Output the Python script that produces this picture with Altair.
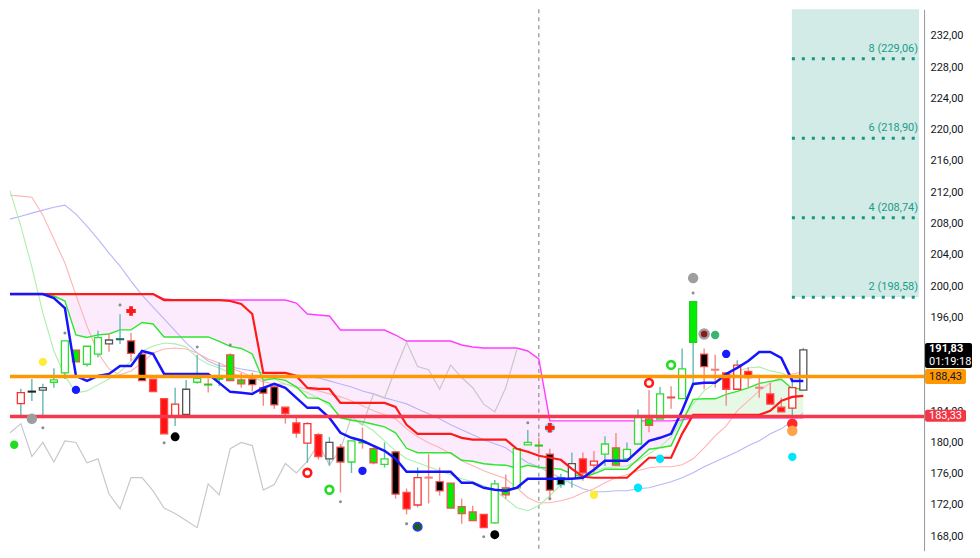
import altair as alt
import pandas as pd

W, H = 915, 542
XDOM = [-0.53, 81.5]
YDOM = [166.15, 235.4]

# ---------------- candles (index 0..71) ----------------
opens = [184.97, 186.55, 186.70, 187.70, 188.90, 191.80, 190.00, 191.30, 192.60, 193.25,
         193.00, 191.30, 188.10, 185.60, 183.40, 183.60, 187.70, 187.45, 188.50, 191.20,
         188.00, 188.10, 187.00, 187.10, 184.50, 182.50, 179.90, 181.00, 177.90, 179.40,
         177.50, 180.05, 179.20, 177.20, 178.80, 173.60, 172.00, 175.55, 175.00, 174.80,
         171.80, 171.10, 170.80, 169.70, 174.20, 174.20, 179.70, 179.65, 178.50, 175.50,
         175.40, 177.90, 177.10, 178.50, 179.30, 177.90, 179.80, 183.00, 183.00, 185.80,
         185.60, 198.00, 191.30, 189.35, 188.90, 186.80, 189.10, 187.05, 186.20, 184.50,
         184.40, 186.70]
highs = [186.85, 188.10, 187.50, 189.50, 193.00, 191.80, 192.30, 194.30, 194.00, 196.40,
         194.00, 191.80, 188.10, 185.60, 187.00, 188.00, 191.20, 188.20, 190.20, 191.40,
         188.90, 188.90, 188.00, 187.50, 184.50, 183.40, 182.60, 181.20, 180.70, 179.80,
         180.20, 181.90, 179.40, 180.00, 178.80, 174.10, 176.80, 178.50, 176.80, 174.80,
         172.80, 171.90, 170.80, 175.20, 175.90, 179.20, 181.60, 180.60, 179.20, 176.00,
         178.70, 178.70, 178.90, 180.80, 181.20, 180.00, 184.20, 186.70, 187.10, 187.20,
         192.00, 198.00, 192.00, 191.20, 188.90, 190.50, 189.60, 188.60, 187.60, 185.70,
         188.30, 192.10]
lows = [183.40, 185.30, 183.10, 187.00, 188.10, 190.30, 189.70, 190.90, 191.60, 192.60,
        190.40, 187.90, 186.50, 181.10, 182.10, 183.60, 187.50, 186.40, 187.20, 187.90,
        187.00, 186.50, 184.70, 184.30, 182.40, 180.60, 177.40, 177.80, 177.00, 173.60,
        176.10, 179.20, 177.20, 176.80, 172.80, 170.80, 171.70, 172.20, 173.20, 171.60,
        169.60, 170.00, 169.10, 169.60, 172.80, 174.20, 179.70, 178.50, 172.80, 174.20,
        174.20, 175.10, 176.10, 177.00, 177.00, 177.60, 179.80, 181.30, 183.00, 184.30,
        185.60, 187.60, 186.80, 187.00, 184.70, 186.80, 187.00, 185.70, 184.90, 183.90,
        183.20, 186.70]
closes = [186.37, 186.45, 187.00, 188.00, 193.00, 190.30, 192.30, 193.40, 193.10, 193.15,
          191.40, 187.90, 186.50, 181.10, 184.90, 186.80, 188.20, 187.35, 188.10, 187.90,
          187.50, 187.40, 186.30, 184.80, 183.70, 181.20, 182.40, 178.20, 180.00, 177.50,
          180.20, 179.95, 177.40, 177.90, 173.40, 171.50, 175.50, 175.45, 173.80, 171.60,
          170.90, 170.00, 169.10, 174.70, 173.30, 179.20, 180.00, 179.55, 173.90, 174.60,
          177.30, 176.10, 177.60, 179.80, 177.10, 179.10, 183.30, 182.20, 186.20, 185.70,
          189.40, 192.80, 189.70, 189.25, 186.80, 189.90, 188.30, 186.95, 184.90, 183.90,
          187.00, 191.83]
body_style = ["HR", "DK", "HK", "HG", "HG", "FG", "HG", "HG", "HK", "DT",
              "FK", "FK", "FR", "FR", "HR", "HK", "HG", "DG", "FGG", "FG",
              "FG", "FK", "FK", "FK", "FR", "FR", "HR", "FR", "HK", "FK",
              "HG", "DG", "FG", "HG", "FK", "FR", "HR", "DS", "FK", "FG",
              "FG", "FG", "FR", "HG", "FG", "HG", "HG", "DG", "FK", "FKT",
              "HK", "FR", "HR", "HG", "FG", "HG", "HG", "FG", "HG", "FG",
              "HG", "FGG", "FK", "DS", "FR", "HR", "FR", "DS", "FR", "FR",
              "HR", "HK"]
wick_style = ["T", "T", "T", "T", "T", "S", "T", "T", "S", "T",
              "S", "S", "S", "S", "T", "T", "T", "S", "T", "S",
              "S", "S", "S", "S", "S", "S", "T", "S", "T", "S",
              "T", "S", "S", "T", "S", "S", "T", "S", "S", "S",
              "S", "S", "S", "T", "S", "T", "T", "S", "S", "T",
              "T", "S", "S", "T", "S", "T", "T", "S", "T", "S",
              "T", "T", "S", "S", "S", "T", "S", "S", "S", "S",
              "T", "T"]

# ---------------- indicator lines (index -1..71) ----------------
tenkan = [198.98, 198.98, 198.98, 198.98, 198.47, 197.19, 188.51, 187.87, 188.51, 188.76,
          189.79, 189.79, 191.70, 191.32, 188.76, 188.76, 188.76, 188.76, 188.76, 187.62,
          186.47, 186.34, 186.21, 186.97, 187.48, 186.97, 185.70, 184.42, 184.42, 183.15,
          181.23, 180.59, 180.21, 179.57, 178.93, 177.91, 176.25, 176.25, 176.25, 176.25,
          176.25, 174.84, 174.84, 174.20, 173.95, 173.82, 174.20, 175.35, 175.35, 175.35,
          175.35, 175.35, 175.48, 176.50, 177.65, 177.65, 177.65, 178.93, 180.21, 180.59,
          181.10, 184.04, 187.48, 187.62, 187.62, 188.76, 189.53, 190.42, 191.57, 191.57,
          190.81, 187.87, 187.87]
kijun = ([198.98] * 14 + [198.21] * 6 + [198.09, 197.70, 196.43] + [188.89] * 3
         + [188.51, 186.97, 186.84, 186.84] + [185.06] * 5 + [184.55, 182.25]
         + [181.10] * 4 + [180.59] + [180.35] * 4
         + [179.19, 178.80, 178.29, 178.04, 177.78, 176.63, 175.61] + [175.48] * 4
         + [176.76] + [178.04] * 3 + [181.10] + [183.53] * 7
         + [184.04, 185.32, 185.83, 185.95])
span_a = [198.98, 198.98, 198.98, 198.98, 198.73, 198.09, 193.75, 193.43, 193.75, 193.87,
          194.39, 194.39, 195.34, 195.15, 193.49, 193.49, 193.49, 193.49, 193.49, 192.92,
          192.28, 192.02, 191.32, 187.93, 188.19, 187.93, 187.11, 185.70, 185.63, 185.00,
          183.15, 182.83, 182.64, 182.32, 182.00, 181.23, 179.25, 178.68, 178.68, 178.68,
          178.68, 177.72, 177.60, 177.28, 177.15, 177.09, 176.70, 177.08, 176.82, 176.70,
          176.57, 175.99, 175.55, 175.99, 176.57, 176.57, 176.57, 177.85, 179.13, 179.32,
          179.57, 182.57, 185.51, 185.58, 185.58, 186.15, 186.53, 186.98, 187.55, 187.81,
          188.07, 186.85, 186.91]
span_b = ([198.98] * 14 + [198.34] + [198.21] * 11 + [197.83, 196.43, 196.30, 196.17]
          + [194.38] * 5 + [193.74] + [192.97] * 5 + [192.46, 192.21] + [192.08] * 4
          + [191.70, 190.68] + [182.76] * 12 + [182.89] + [183.15] * 11)
light_green = [212.26, 207.67, 202.43, 196.55, 191.70, 188.51, 186.34, 186.59, 187.36, 188.12,
               189.02, 190.42, 191.70, 192.34, 192.72, 192.60, 192.21, 190.81, 190.04, 189.53,
               188.89, 188.51, 188.12, 188.12, 188.12, 187.48, 186.97, 186.34, 185.70, 184.67,
               183.40, 182.89, 182.38, 181.49, 180.21, 178.93, 177.91, 177.40, 176.89, 176.38,
               175.87, 175.35, 174.97, 174.46, 173.82, 172.80, 171.65, 171.27, 171.91, 173.18,
               174.59, 175.35, 175.99, 176.38, 176.76, 176.89, 177.02, 177.65, 178.55, 179.44,
               180.72, 183.02, 184.93, 186.59, 187.62, 188.38, 189.15, 189.53, 189.66, 189.15,
               188.89, 188.25, 188.12]
light_red = [211.62, 211.50, 211.37, 209.07, 206.01, 202.94, 198.85, 194.89, 191.45, 189.40,
             188.64, 189.15, 190.17, 191.45, 191.96, 192.08, 191.96, 191.45, 190.68, 190.17,
             189.53, 189.02, 188.38, 187.74, 187.48, 187.48, 187.10, 186.84, 186.59, 186.21,
             185.83, 185.32, 184.68, 184.04, 183.53, 183.02, 181.74, 180.72, 179.95, 179.31,
             178.55, 177.65, 177.01, 176.38, 175.87, 175.35, 174.20, 172.93, 172.29, 172.29,
             172.55, 172.93, 173.57, 174.08, 174.84, 175.48, 175.87, 176.38, 176.76, 176.89,
             176.89, 177.14, 177.91, 179.31, 180.85, 182.12, 184.04, 185.32, 186.59, 187.62,
             188.38, 188.76, 189.02]
light_blue = [208.56, 208.94, 209.33, 209.71, 210.09, 210.35, 209.20, 207.67, 206.01, 204.22,
              202.56, 200.64, 198.85, 197.32, 195.79, 194.26, 192.72, 191.45, 190.42, 189.79,
              189.66, 189.40, 189.15, 188.89, 188.76, 188.89, 188.64, 188.38, 188.25, 187.87,
              187.48, 187.10, 186.59, 186.21, 185.70, 185.32, 184.93, 184.29, 183.66, 183.02,
              182.25, 181.61, 180.97, 180.34, 179.82, 179.31, 178.29, 177.40, 176.89, 176.12,
              175.48, 174.71, 174.08, 173.69, 173.69, 173.82, 173.82, 174.08, 174.20, 174.59,
              174.97, 175.48, 176.12, 176.89, 177.53, 178.16, 178.80, 179.57, 180.21, 181.10,
              181.74, 182.76, 183.78]
# lagging line, index -1..45
lagging = [181.20, 182.40, 178.20, 180.00, 177.50, 180.20, 180.00, 177.40, 177.90, 173.40,
           171.50, 175.50, 175.50, 173.80, 171.60, 170.90, 170.00, 169.10, 174.70, 173.30,
           179.20, 180.00, 179.60, 173.90, 174.60, 177.30, 176.10, 177.60, 179.80, 177.10,
           179.10, 183.30, 182.20, 186.20, 185.70, 189.40, 192.80, 189.70, 189.30, 186.80,
           189.90, 188.30, 187.00, 184.90, 183.90, 187.00, 191.83]

# ---------------- markers ----------------
mk_c = [-0.6, 1, 2, 2, 4, 5, 9, 10, 13, 14, 16, 19, 26, 28, 29, 31, 35, 36, 42, 43,
        46, 48, 48, 48, 52, 56, 57, 58, 59, 61, 61, 62, 63, 64, 70, 70, 70]
mk_p = [179.70, 183.02, 181.87, 190.30, 194.00, 186.72, 197.58, 196.81, 179.95, 180.72,
        192.21, 192.47, 176.12, 173.95, 172.42, 176.37, 169.61, 169.22, 167.95, 168.20,
        182.51, 181.87, 181.87, 172.80, 173.31, 174.20, 187.61, 177.91, 189.91, 201.02,
        199.11, 193.87, 193.74, 191.32, 182.38, 181.49, 178.16]
mk_kind = ["green", "gray", "tiny", "yellow", "tiny", "blue", "tiny", "cross", "tiny", "black",
           "tiny", "tiny", "redring", "greenring", "tiny", "blue", "tiny", "dkgreen", "tiny", "black",
           "tiny", "cyanbg", "cross", "tiny", "yellow", "cyan", "redring", "cyan", "greenring", "gray",
           "tiny", "dkred", "seagreen", "blue", "red", "orange", "cyan"]

# ---------------- levels / labels ----------------
fib_levels = [198.58, 208.74, 218.90, 229.06]
fib_labels = ["2 (198,58)", "4 (208,74)", "6 (218,90)", "8 (229,06)"]
box_start = 69.96
h_orange = 188.43
h_red = 183.33
session_c = 47.0
axis_ticks = [168, 172, 176, 180, 184, 196, 200, 204, 208, 212, 216, 220, 224, 228, 232]
tag_top = [192.72, 189.40, 184.17]
tag_bot = [189.53, 187.48, 182.63]
tag_right = [48, 42, 42]
tag_fill = ["#000000", "#ff9800", "#f23645"]
tag_bold_text = ["191,83"]
tag_bold_p = [191.92]
tag_text = ["01:19:18", "188,43", "183,33"]
tag_text_p = [190.30, 188.43, 183.40]
tag_text_color = ["#ffffff", "#131722", "#ffffff"]

# ---------------- styling ----------------
BODY = {
    "HG": ("#ffffff", "#2ee02e"), "FG": ("#00ee00", "#f05050"), "FGG": ("#00ee00", "#22cc22"),
    "FR": ("#ff1414", "#ff4a4a"), "HR": ("#ffffff", "#ff3030"), "FK": ("#000000", "#f05050"),
    "FKT": ("#000000", "#26a69a"), "HK": ("#ffffff", "#555555"), "DK": ("#222222", "#222222"),
    "DT": ("#1e6f66", "#1e6f66"), "DG": ("#22cc22", "#22cc22"), "DS": ("#f08080", "#f08080"),
}
WICK = {"T": "#62b9b1", "S": "#f28b82"}
MK = {
    "tiny": ("#8c8c8c", "#8c8c8c", 0, 9, "circle"),
    "gray": ("#9e9e9e", "#9e9e9e", 0, 110, "circle"),
    "yellow": ("#ffeb3b", "#ffeb3b", 0, 70, "circle"),
    "blue": ("#1a1aff", "#1a1aff", 0, 70, "circle"),
    "black": ("#000000", "#000000", 0, 80, "circle"),
    "cross": ("#ff1a1a", "#ff1a1a", 0, 90, "cross"),
    "cyanbg": ("#7fdce8", "#7fdce8", 0, 100, "circle"),
    "redring": ("transparent", "#ff1a1a", 2.6, 60, "circle"),
    "greenring": ("transparent", "#22dd22", 2.6, 60, "circle"),
    "dkgreen": ("#1b5e20", "#3333ff", 1.5, 75, "circle"),
    "cyan": ("#00e5ff", "#00e5ff", 0, 70, "circle"),
    "dkred": ("#8b1c1c", "#9e9e9e", 2.5, 80, "circle"),
    "seagreen": ("#3cb371", "#3cb371", 0, 70, "circle"),
    "red": ("#ff2a2a", "#ff2a2a", 0, 110, "circle"),
    "orange": ("#ffa24a", "#ffa24a", 0, 110, "circle"),
    "green": ("#22dd22", "#22dd22", 0, 70, "circle"),
}

# ---------------- data frames ----------------
candles = pd.DataFrame({
    "c": list(range(len(opens))), "o": opens, "h": highs, "l": lows, "cl": closes,
    "fill": [BODY[s][0] for s in body_style], "stroke": [BODY[s][1] for s in body_style],
    "wick": [WICK[w] for w in wick_style],
})
lines = pd.DataFrame({
    "c": list(range(-1, 72)), "tenkan": tenkan, "kijun": kijun, "a": span_a, "b": span_b,
    "lg": light_green, "lr": light_red, "lb": light_blue,
})
lag = pd.DataFrame({"c": list(range(-1, len(lagging) - 1)), "v": lagging})
markers = pd.DataFrame({
    "c": mk_c, "p": mk_p,
    "fill": [MK[k][0] for k in mk_kind], "stroke": [MK[k][1] for k in mk_kind],
    "sw": [MK[k][2] for k in mk_kind], "size": [MK[k][3] for k in mk_kind],
    "shape": [MK[k][4] for k in mk_kind],
})
fib = pd.DataFrame({"x1": [box_start] * 4, "x2": [XDOM[1]] * 4, "p": fib_levels, "t": fib_labels})
box = pd.DataFrame({"x1": [box_start], "x2": [XDOM[1]], "y1": [fib_levels[0]], "y2": [240.0]})
hl = pd.DataFrame({"p": [h_orange, h_red], "col": ["#ff9800", "#f7374c"]})
vl = pd.DataFrame({"c": [session_c]})
tagtxt = pd.DataFrame({"p": tag_text_p, "t": tag_text, "col": tag_text_color})
tagbold = pd.DataFrame({"p": tag_bold_p, "t": tag_bold_text})

xs = alt.Scale(domain=XDOM, nice=False, zero=False)
ys = alt.Scale(domain=YDOM, nice=False, zero=False)
yaxis = alt.Axis(orient="right", values=axis_ticks,
                 labelExpr="replace(format(datum.value, '.2f'), '.', ',')",
                 ticks=False, grid=False, domain=True, domainColor="#9598a1",
                 labelColor="#131722", labelFontSize=11, labelFont="Roboto",
                 labelPadding=6, title=None)


def X(f):
    return alt.X(f, scale=xs, axis=None)


def Y(f):
    return alt.Y(f, scale=ys, axis=yaxis)


teal_box = alt.Chart(box).mark_rect(color="#d2ebe7", clip=True).encode(
    x=X("x1:Q"), x2="x2:Q", y=Y("y1:Q"), y2="y2:Q")

cloud_base = alt.Chart(lines).transform_calculate(
    lo="min(datum.a, datum.b)", hi="max(datum.a, datum.b)")
cloud_pink = cloud_base.mark_area(color="#fcebfc", clip=True).encode(
    x=X("c:Q"), y=Y("b:Q"), y2="lo:Q")
cloud_green = cloud_base.mark_area(color="#e6f8e6", clip=True).encode(
    x=X("c:Q"), y=Y("hi:Q"), y2="b:Q")

vline = alt.Chart(vl).mark_rule(color="#8e8e8e", strokeDash=[4, 4], strokeWidth=1.2).encode(
    x=X("c:Q"))


def line(field, color, width):
    return alt.Chart(lines).mark_line(color=color, strokeWidth=width, clip=True).encode(
        x=X("c:Q"), y=Y(f"{field}:Q"))


l_blue = line("lb", "#b7b7f7", 1.1)
l_red = line("lr", "#ffb4b4", 1.1)
l_green = line("lg", "#aeeeae", 1.1)
l_lag = alt.Chart(lag).mark_line(color="#c8c8c8", strokeWidth=1.2, clip=True).encode(
    x=X("c:Q"), y=Y("v:Q"))
l_b = line("b", "#ff3dff", 1.4)
l_a = line("a", "#2ee62e", 1.4)

wicks = alt.Chart(candles).mark_rule(strokeWidth=1.4).encode(
    x=X("c:Q"), y=Y("l:Q"), y2="h:Q", color=alt.Color("wick:N", scale=None))
bodies = alt.Chart(candles).mark_bar(size=7, strokeWidth=1.3, orient="vertical").encode(
    x=X("c:Q"), y=Y("o:Q"), y2="cl:Q",
    fill=alt.Fill("fill:N", scale=None), stroke=alt.Stroke("stroke:N", scale=None))

l_kijun = line("kijun", "#ff1a1a", 2.2)
l_tenkan = line("tenkan", "#1414ff", 2.5)

hlines = alt.Chart(hl).mark_rule(strokeWidth=3.5).encode(
    y=Y("p:Q"), color=alt.Color("col:N", scale=None))

fib_lines = alt.Chart(fib).mark_rule(color="#139684", strokeWidth=3, strokeDash=[3, 7]).encode(
    x=X("x1:Q"), x2="x2:Q", y=Y("p:Q"))
fib_text = alt.Chart(fib).mark_text(align="right", baseline="middle", dy=-10, fontSize=11,
                                     font="Roboto", color="#1a9c8a").encode(
    x=alt.value(W - 6), y=Y("p:Q"), text="t:N")

marks = alt.Chart(markers).mark_point(filled=True, opacity=1, clip=True).encode(
    x=X("c:Q"), y=Y("p:Q"),
    fill=alt.Fill("fill:N", scale=None), stroke=alt.Stroke("stroke:N", scale=None),
    strokeWidth=alt.StrokeWidth("sw:Q", scale=None), size=alt.Size("size:Q", scale=None),
    shape=alt.Shape("shape:N", scale=None))

tag_layers = []
for top, bot, right, fill in zip(tag_top, tag_bot, tag_right, tag_fill):
    tag_layers.append(
        alt.Chart(pd.DataFrame({"top": [top], "bot": [bot]})).mark_rect(
            cornerRadius=2, color=fill).encode(
            x=alt.value(W + 1), x2=alt.value(W + right), y=Y("top:Q"), y2="bot:Q"))
tag_labels = alt.Chart(tagtxt).mark_text(align="left", baseline="middle", fontSize=11,
                                         font="Roboto").encode(
    x=alt.value(W + 5), y=Y("p:Q"), text="t:N", color=alt.Color("col:N", scale=None))
tag_bold = alt.Chart(tagbold).mark_text(align="left", baseline="middle", fontSize=11,
                                        font="Roboto", fontWeight="bold", color="#ffffff").encode(
    x=alt.value(W + 5), y=Y("p:Q"), text="t:N")

chart = alt.layer(
    teal_box, cloud_pink, cloud_green, vline,
    l_blue, l_red, l_green, l_lag, l_b, l_a,
    wicks, bodies, l_kijun, l_tenkan, hlines,
    fib_lines, fib_text, marks, *tag_layers, tag_labels, tag_bold,
).properties(width=W, height=H, padding=0, background="#ffffff").configure_view(stroke=None)

chart.save("out.html", embed_options={"renderer": "svg", "actions": False})
